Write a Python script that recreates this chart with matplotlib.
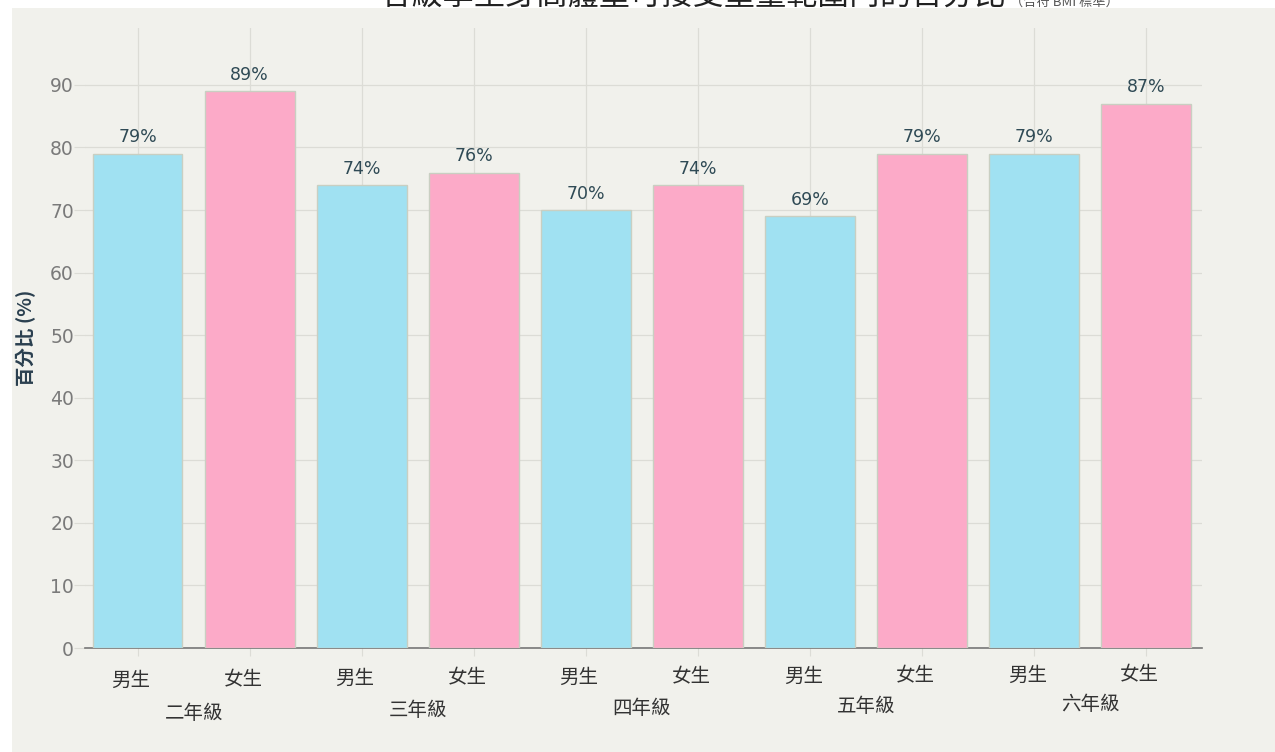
import matplotlib.pyplot as plt
from matplotlib.patches import Rectangle
import numpy as np

plt.rcParams["font.family"] = ["Noto Sans CJK TC", "DejaVu Sans"]

grades = ["二年級", "三年級", "四年級", "五年級", "六年級"]
genders = ["男生", "女生"]
boys = [79, 74, 70, 69, 79]
girls = [89, 76, 74, 79, 87]

title = "各級學生身高體重可接受重量範圍內的百分比"
subtitle = "（合符 BMI 標準）"
ylabel = "百分比 (%)"

c_boy = "#a0e1f2"
c_girl = "#fcaac8"
panel = "#f1f1ec"

W, H = 1275, 752
fig = plt.figure(figsize=(W / 100, H / 100), dpi=100, facecolor="white")
# panel background
fig.patches.append(Rectangle((12 / W, 0), 1 - 12 / W, 1 - 8 / H, transform=fig.transFigure,
                             facecolor=panel, edgecolor="none", zorder=-10))

ax = fig.add_axes([85 / W, (H - 648) / H, (1202 - 85) / W, (648 - 28) / H])
ax.set_facecolor(panel)

values = []
colors = []
labels = []
for b, g in zip(boys, girls):
    values += [b, g]
    colors += [c_boy, c_girl]
    labels += genders
x = np.arange(len(values))

ax.bar(x, values, width=0.8, color=colors, edgecolor="#c9cfc2", linewidth=1.0, zorder=3)
for xi, v in zip(x, values):
    ax.text(xi, v + 1.2, f"{v}%", ha="center", va="bottom", fontsize=12.5,
            color="#2f4a55", family=["DejaVu Sans"], zorder=4)

ax.set_xlim(-0.47, len(values) - 0.5)
ax.set_ylim(0, 99.1)
ax.set_yticks(range(0, 100, 10))
ax.tick_params(axis="y", length=8, color="#dcdcd6", labelsize=13.5, labelcolor="#7a7a7a", pad=0)
for t in ax.get_yticklabels():
    t.set_family(["DejaVu Sans"])
ax.set_xticks(x)
ax.set_xticklabels([])
ax.tick_params(axis="x", length=6, color="#dcdcd6", direction="out")

ax.grid(True, color="#dcdcd6", linewidth=0.9, zorder=0)
for s in ["top", "right", "left"]:
    ax.spines[s].set_visible(False)
ax.spines["bottom"].set_color("#777777")
ax.spines["bottom"].set_linewidth(1.2)

# category labels (slight drift as in the original)
for i, (xi, lab) in enumerate(zip(x, labels)):
    dy = -5.1 + i * 0.09
    ax.text(xi - 0.06, dy, lab, ha="center", va="center", fontsize=14, color="#333333")
for j, gname in enumerate(grades):
    dy = -10.4 + j * 0.35
    ax.text(2 * j + 0.5, dy, gname, ha="center", va="center", fontsize=14, color="#333333")

ax.set_ylabel(ylabel, fontsize=14, fontweight="bold", color="#2a3f4f", labelpad=10)

fig.text(1005 / W, 1 - 5 / H, title, ha="right", va="baseline", fontsize=22.5, color="#222222")
fig.text(1010 / W, 1 - 6 / H, subtitle, ha="left", va="baseline", fontsize=9.5, color="#555555")

fig.savefig("out.png", dpi=100, facecolor="white")
